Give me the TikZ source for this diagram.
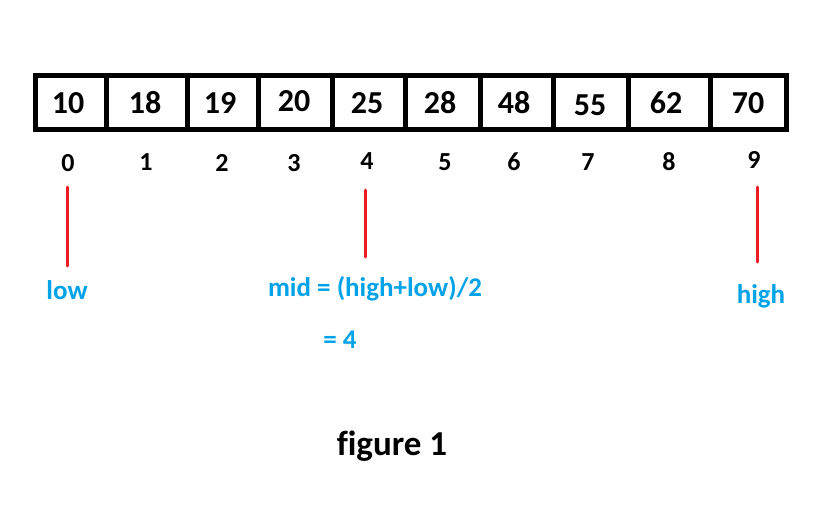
\documentclass[tikz,border=0pt]{standalone}
\usepackage{fontspec}
\setmainfont{Carlito}[Ligatures=NoCommon]
\definecolor{pblue}{RGB}{0,162,232}
\definecolor{pred}{RGB}{237,28,36}
\begin{document}
\begin{tikzpicture}[x=1pt,y=-1pt,
  cellnum/.style={font=\bfseries\fontsize{32}{32}\selectfont,inner sep=0pt,anchor=center},
  idx/.style={font=\bfseries\fontsize{26}{26}\selectfont,inner sep=0pt,anchor=center},
  lbl/.style={font=\bfseries\fontsize{27}{27}\selectfont,text=pblue,inner sep=0pt,anchor=center},
  ptr/.style={draw=pred,line width=3pt,line cap=round},
  frame/.style={draw=black,line width=5pt}]
\useasboundingbox (0,0) rectangle (835,522);
\fill[white] (0,0) rectangle (835,522);
\node[frame,minimum width=751pt,minimum height=54pt,inner sep=0pt] (arr) at (411,102.5) {};
\foreach \d in {106,187,258,332,405,480,553,628,710}
  \draw[frame] (\d,75.5) -- (\d,129.5);
\foreach \v/\x/\y [count=\i from 0] in {10/68/103,18/145/103,19/220/103,20/294/101,25/367/103,28/440/103,48/514/103,55/590/105,62/666/103,70/748/103}
  \node[cellnum] (c\i) at (\x,\y) {\v};
\foreach \x/\y [count=\i from 0] in {68/163,146/162,222/163,294/163,367/161,445/162,514/162,588/162,669/162,754/160}
  \node[idx] (i\i) at (\x,\y) {\i};
\coordinate (lowtop) at (67,187);
\coordinate (lowbot) at (67,266);
\coordinate (midtop) at (365,190);
\coordinate (midbot) at (365,257);
\coordinate (hightop) at (757,187);
\coordinate (highbot) at (757,262);
\draw[ptr] (lowtop) -- (lowbot);
\draw[ptr] (midtop) -- (midbot);
\draw[ptr] (hightop) -- (highbot);
\node[lbl] (low) at (67,290) {low};
\node[lbl] (mid) at (375,289) {mid = (high+low)/2};
\node[lbl] (eq) at (340,340) {= 4};
\node[lbl] (high) at (761,296) {high};
\node[font=\bfseries\fontsize{35}{35}\selectfont,inner sep=0pt] (cap) at (392,446) {f\kern0pt igure 1};
\end{tikzpicture}
\end{document}
